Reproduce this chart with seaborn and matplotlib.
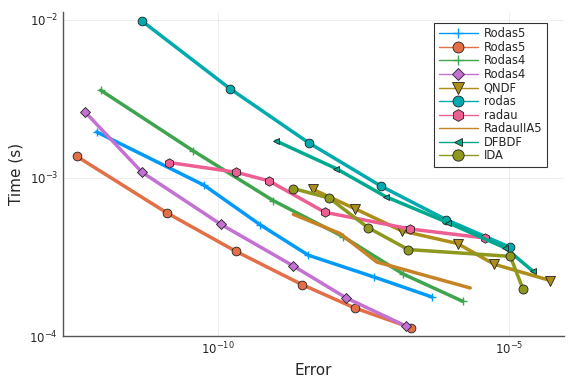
import numpy as np
import pandas as pd
import matplotlib
matplotlib.use("Agg")
import matplotlib.pyplot as plt
import matplotlib.ticker as mticker
import seaborn as sns

# log10 of error / time
rodas5_a_x = [-12.088, -10.241, -9.277, -8.446, -7.315, -6.322]
rodas5_a_y = [-2.709, -3.046, -3.296, -3.489, -3.627, -3.753]
rodas5_b_x = [-12.432, -10.878, -9.695, -8.549, -7.647, -6.673]
rodas5_b_y = [-2.863, -3.2215, -3.464, -3.676, -3.823, -3.949]
rodas4_a_x = [-12.019, -10.425, -9.053, -7.843, -6.811, -5.795]
rodas4_a_y = [-2.445, -2.829, -3.143, -3.373, -3.609, -3.780]
rodas4_b_x = [-12.284, -11.308, -9.954, -8.718, -7.797, -6.769]
rodas4_b_y = [-2.584, -2.964, -3.293, -3.554, -3.759, -3.937]
qndf_x = [-8.370, -7.637, -6.838, -5.881, -5.250, -4.286]
qndf_y = [-3.072, -3.196, -3.335, -3.415, -3.546, -3.649]
rodas_x = [-11.313, -9.788, -8.437, -7.194, -6.081, -4.974]
rodas_y = [-2.006, -2.437, -2.7785, -3.0525, -3.263, -3.439]
radau_x = [-10.838, -9.685, -9.122, -8.164, -6.695, -5.410]
radau_y = [-2.9025, -2.964, -3.019, -3.217, -3.323, -3.380]
radauIIA5_x = [-8.704, -7.900, -7.269, -5.663]
radauIIA5_y = [-3.230, -3.352, -3.532, -3.696]
dfbdf_x = [-9.002, -7.969, -7.108, -6.053, -5.060, -4.583]
dfbdf_y = [-2.766, -2.9405, -3.120, -3.282, -3.443, -3.590]
ida_x = [-8.704, -8.084, -7.423, -6.730, -4.974, -4.756]
ida_y = [-3.067, -3.128, -3.314, -3.453, -3.496, -3.7025]

labels = ["Rodas5", "Rodas5", "Rodas4", "Rodas4", "QNDF", "rodas", "radau",
          "RadauIIA5", "DFBDF", "IDA"]
colors = ["#009AFA", "#E36F47", "#3EA44E", "#C371D2", "#AC8E18", "#00AAAE",
          "#ED5E93", "#C68225", "#00A98D", "#8E971E"]
markers = ["+", "o", "+", "D", "v", "o", "h", None, "<", "o"]
msizes = [6, 6.3, 6, 4.6, 6.5, 6.3, 6.8, 0, 4.6, 6.5]
series = [(rodas5_a_x, rodas5_a_y), (rodas5_b_x, rodas5_b_y),
          (rodas4_a_x, rodas4_a_y), (rodas4_b_x, rodas4_b_y),
          (qndf_x, qndf_y), (rodas_x, rodas_y), (radau_x, radau_y),
          (radauIIA5_x, radauIIA5_y), (dfbdf_x, dfbdf_y), (ida_x, ida_y)]

sns.set_style("white")
plt.rcParams['font.family'] = ['DejaVu Sans']
fig = plt.figure(figsize=(5.76, 3.84), dpi=100)
ax = fig.add_axes([63/576, 1-336/384, (564-63)/576, (336-12)/384])

for (xs, ys), lab, col, mk, ms in zip(series, labels, colors, markers, msizes):
    df = pd.DataFrame({"Error": 10.0**np.array(xs), "Time": 10.0**np.array(ys)})
    kw = {}
    if mk is not None:
        kw = dict(marker=mk, markersize=ms,
                  markeredgecolor=(col if mk == "+" else "#222222"),
                  markeredgewidth=(1.0 if mk == "+" else 0.6))
    sns.lineplot(data=df, x="Error", y="Time", ax=ax, color=col, linewidth=2.5,
                 label=lab, sort=False, estimator=None, **kw)

ax.set_xscale("log")
ax.set_yscale("log")
ax.set_xlim(10**-12.667, 10**-4.05)
ax.set_ylim(1e-4, 10**-1.95)
ax.xaxis.set_major_locator(mticker.FixedLocator([1e-10, 1e-5]))
ax.yaxis.set_major_locator(mticker.FixedLocator([1e-4, 1e-3, 1e-2]))
ax.xaxis.set_minor_locator(mticker.NullLocator())
ax.yaxis.set_minor_locator(mticker.NullLocator())
ax.grid(True, color="#000000", alpha=0.08, linewidth=0.6)
for s in ["top", "right"]:
    ax.spines[s].set_visible(False)
for s in ["left", "bottom"]:
    ax.spines[s].set_color("#555555")
    ax.spines[s].set_linewidth(1.0)
ax.tick_params(axis="both", which="major", length=4, width=0.8, direction="in",
               labelsize=8.5, color="#333333")
ax.set_xlabel("Error", fontsize=11)
ax.set_ylabel("Time (s)", fontsize=11)

leg = ax.legend(loc="upper right", bbox_to_anchor=(0.966, 0.967), borderaxespad=0,
                fontsize=8.3, labelspacing=0.05, handlelength=3.4, handletextpad=0.5,
                frameon=True, fancybox=False, edgecolor="black", borderpad=0.4)
leg.get_frame().set_linewidth(0.8)
for h in leg.legend_handles:
    h.set_linewidth(1.0)
    try:
        h.set_markersize(h.get_markersize() * 1.25)
    except Exception:
        pass

fig.savefig("out.png", dpi=100)
